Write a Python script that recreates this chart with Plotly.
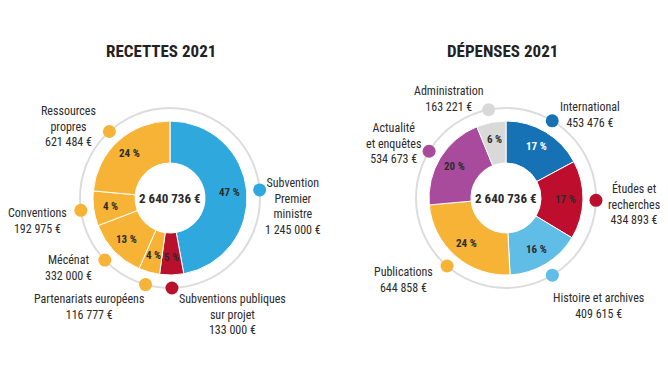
import math
import plotly.graph_objects as go

# ---------------- data ----------------
rec_labels = ["Subvention Premier ministre", "Subventions publiques sur projet",
              "Partenariats européens", "Mécénat", "Conventions", "Ressources propres"]
rec_values = [1245000, 133000, 116777, 332000, 192975, 621484]
rec_pct_text = ["47 %", "5 %", "4 %", "13 %", "4 %", "24 %"]
rec_label_text = ["Subvention<br>Premier<br>ministre<br>1 245 000 €",
                  "Subventions publiques<br>sur projet<br>133 000 €",
                  "Partenariats européens<br>116 777 €",
                  "Mécénat<br>332 000 €",
                  "Conventions<br>192 975 €",
                  "Ressources<br>propres<br>621 484 €"]
rec_colors = ["#2fa8dd", "#b9102d", "#f6b335", "#f6b335", "#f6b335", "#f6b335"]
rec_total = "2 640 736 €"

dep_labels = ["International", "Études et recherches", "Histoire et archives",
              "Publications", "Actualité et enquêtes", "Administration"]
dep_values = [453476, 434893, 409615, 644858, 534673, 163221]
dep_pct_text = ["17 %", "17 %", "16 %", "24 %", "20 %", "6 %"]
dep_label_text = ["International<br>453 476 €",
                  "Études et<br>recherches<br>434 893 €",
                  "Histoire et archives<br>409 615 €",
                  "Publications<br>644 858 €",
                  "Actualité<br>et enquêtes<br>534 673 €",
                  "Administration<br>163 221 €"]
dep_colors = ["#1671b5", "#bd0f2d", "#5fbde6", "#f6b335", "#a94b9c", "#d9d9d9"]
dep_pct_colors = ["white", "#2b2b2b", "#2b2b2b", "#2b2b2b", "#2b2b2b", "#2b2b2b"]
dep_total = "2 640 736 €"

titles = ["RECETTES 2021", "DÉPENSES 2021"]

# ---------------- layout constants ----------------
WIN_W, WIN_H = 668, 373
OFF = 8  # default page body margin
W, H = WIN_W - OFF, WIN_H - OFF
FONT = "Liberation Sans Narrow, Roboto Condensed, Roboto, sans-serif"
TXT = "#2b2b2b"
R_OUT, R_IN, R_RING, R_TXT = 77, 35, 90, 60

# label offsets relative to dots: (dx, dy of first text line centre)
rec_label_off = [(33, -7), (61, 11), (-57, 14), (-36, -1), (-43, 2), (-41, -21)]
dep_label_off = [(38, -14), (38, -13), (46, 22), (-44, 5), (-36, -24), (-40, -19)]

fig = go.Figure()


def donut(cx, cy, labels, values, colors, pct, pct_colors, texts, offs, total, title, tx):
    tot = float(sum(values))
    fig.add_trace(go.Pie(
        labels=labels, values=values, sort=False, direction="clockwise",
        rotation=0, hole=R_IN / R_OUT, textinfo="none", hoverinfo="label+value",
        marker=dict(colors=colors, line=dict(color="white", width=1)),
        domain=dict(x=[(cx - R_OUT - OFF) / W, (cx + R_OUT - OFF) / W],
                    y=[1 - (cy + R_OUT - OFF) / H, 1 - (cy - R_OUT - OFF) / H]),
        showlegend=False))
    fig.add_shape(type="circle", xref="x", yref="y", layer="below",
                  x0=cx - R_RING, x1=cx + R_RING, y0=cy - R_RING, y1=cy + R_RING,
                  line=dict(color="#dcdcdc", width=2))
    cum = 0.0
    dx_list, dy_list = [], []
    for i, v in enumerate(values):
        a0 = cum / tot * 2 * math.pi
        cum += v
        a1 = cum / tot * 2 * math.pi
        am = (a0 + a1) / 2
        dxp = cx + R_RING * math.sin(am)
        dyp = cy - R_RING * math.cos(am)
        dx_list.append(dxp)
        dy_list.append(dyp)
        fig.add_annotation(x=cx + R_TXT * math.sin(am), y=cy - R_TXT * math.cos(am),
                           text="<b>%s</b>" % pct[i], showarrow=False,
                           font=dict(family=FONT, size=11, color=pct_colors[i]),
                           xanchor="center", yanchor="middle")
        ox, oy = offs[i]
        fig.add_annotation(x=dxp + ox, y=dyp + oy - 8.5, text=texts[i], showarrow=False,
                           font=dict(family=FONT, size=12, color=TXT),
                           xanchor="center", yanchor="top", align="center")
    fig.add_trace(go.Scatter(x=dx_list, y=dy_list, mode="markers",
                             marker=dict(size=13, color=colors, line=dict(width=0)),
                             hoverinfo="skip", showlegend=False))
    fig.add_annotation(x=cx, y=cy, text="<b>%s</b>" % total, showarrow=False,
                       font=dict(family=FONT, size=13, color=TXT))
    fig.add_annotation(x=tx, y=51, text="<b>%s</b>" % title, showarrow=False,
                       font=dict(family=FONT, size=17, color="#222222"))


donut(170, 198, rec_labels, rec_values, rec_colors, rec_pct_text,
      [TXT] * 6, rec_label_text, rec_label_off, rec_total, titles[0], 161)
donut(506, 198, dep_labels, dep_values, dep_colors, dep_pct_text,
      dep_pct_colors, dep_label_text, dep_label_off, dep_total, titles[1], 502)

fig.update_layout(
    width=W, height=H, margin=dict(l=0, r=0, t=0, b=0),
    paper_bgcolor="white", plot_bgcolor="white",
    xaxis=dict(range=[OFF, WIN_W], visible=False, fixedrange=True),
    yaxis=dict(range=[WIN_H, OFF], visible=False, fixedrange=True),
)
fig.write_html("out.html")
